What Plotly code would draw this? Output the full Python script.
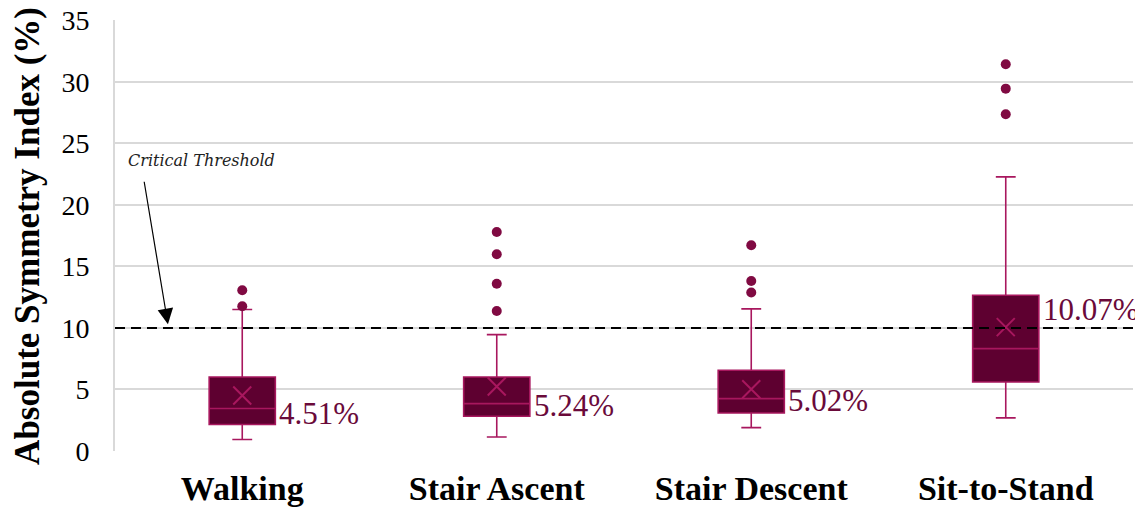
import plotly.graph_objects as go

categories = ["Walking", "Stair Ascent", "Stair Descent", "Sit-to-Stand"]
q1 = [2.15, 2.82, 3.09, 5.61]
median = [3.45, 3.85, 4.26, 8.32]
q3 = [6.02, 6.02, 6.56, 12.66]
lower_whisker = [0.93, 1.14, 1.90, 2.69]
upper_whisker = [11.50, 9.46, 11.55, 22.28]
means = [4.51, 5.24, 5.02, 10.07]
mean_labels = ["4.51%", "5.24%", "5.02%", "10.07%"]
label_y = [3.07, 3.70, 4.10, 11.50]
outliers = {
    "Walking": [11.76, 13.07],
    "Stair Ascent": [11.38, 13.60, 15.99, 17.80],
    "Stair Descent": [12.88, 13.82, 16.72],
    "Sit-to-Stand": [27.37, 29.45, 31.44],
}
threshold = 10
y_ticks = [0, 5, 10, 15, 20, 25, 30, 35]

FILL = "#5E0030"
LINE = "#A8175E"
DOT = "#800A42"
TXT = "#6A0A3A"
SERIF = "Liberation Serif, Times New Roman, serif"

fig = go.Figure()
fig.add_trace(go.Box(
    x=categories, q1=q1, median=median, q3=q3,
    lowerfence=lower_whisker, upperfence=upper_whisker,
    fillcolor=FILL, line=dict(color=LINE, width=1.6),
    width=0.26, whiskerwidth=0.3, boxpoints=False, showlegend=False,
    hoverinfo="skip",
))

ox, oy = [], []
for c in categories:
    for v in outliers[c]:
        ox.append(c)
        oy.append(v)
fig.add_trace(go.Scatter(
    x=ox, y=oy, mode="markers",
    marker=dict(color=DOT, size=10), showlegend=False,
))
fig.add_trace(go.Scatter(
    x=categories, y=means, mode="markers",
    marker=dict(symbol="x-thin", size=18, line=dict(color=LINE, width=2)),
    showlegend=False,
))

fig.add_hline(y=threshold, line=dict(color="black", width=2, dash="10px,6px"), layer="above")

for c, t, ly in zip(categories, mean_labels, label_y):
    fig.add_annotation(x=c, y=ly, text=t, showarrow=False, xanchor="left",
                       yanchor="middle", xshift=35,
                       font=dict(family=SERIF, size=31, color=TXT))

fig.add_annotation(
    xref="paper", yref="paper", x=-0.0855, y=0.499,
    text="<b>Absolute Symmetry Index (%)</b>", textangle=-90, showarrow=False,
    xanchor="center", yanchor="middle",
    font=dict(family=SERIF, size=35, color="black"),
)

fig.add_annotation(
    xref="paper", yref="paper", x=0.011, y=0.675, text="<i>Critical Threshold</i>",
    showarrow=False, xanchor="left", yanchor="middle",
    font=dict(family="DejaVu Serif, serif", size=16, color="#222222"),
)
fig.add_annotation(
    xref="paper", yref="y", x=0.052, y=10.3, ax=-24, ay=-144,
    axref="pixel", ayref="pixel",
    showarrow=True, arrowhead=2, arrowsize=2.6, arrowwidth=1.2, arrowcolor="black", text="",
)

fig.update_layout(
    width=1143, height=510,
    margin=dict(l=107, r=18, t=12, b=67),
    paper_bgcolor="white", plot_bgcolor="white",
    font=dict(family=SERIF, color="black"),
    xaxis=dict(
        range=[-0.5, 3.5], automargin=False,
        showgrid=False, showline=False, ticks="",
        tickfont=dict(family=SERIF, size=34, color="black", weight="bold"),
        ticklabelstandoff=14,
    ),
    yaxis=dict(
        range=[0, 35.03], tickvals=y_ticks, automargin=False,
        showgrid=True, gridcolor="#D9D9D9", gridwidth=2,
        zeroline=False, showline=True, linecolor="#D9D9D9", linewidth=2,
        tickfont=dict(family=SERIF, size=28, color="black"),
        ticklabelstandoff=18, ticklabeloverflow="allow",
    ),
)

fig.write_html("out.html")
